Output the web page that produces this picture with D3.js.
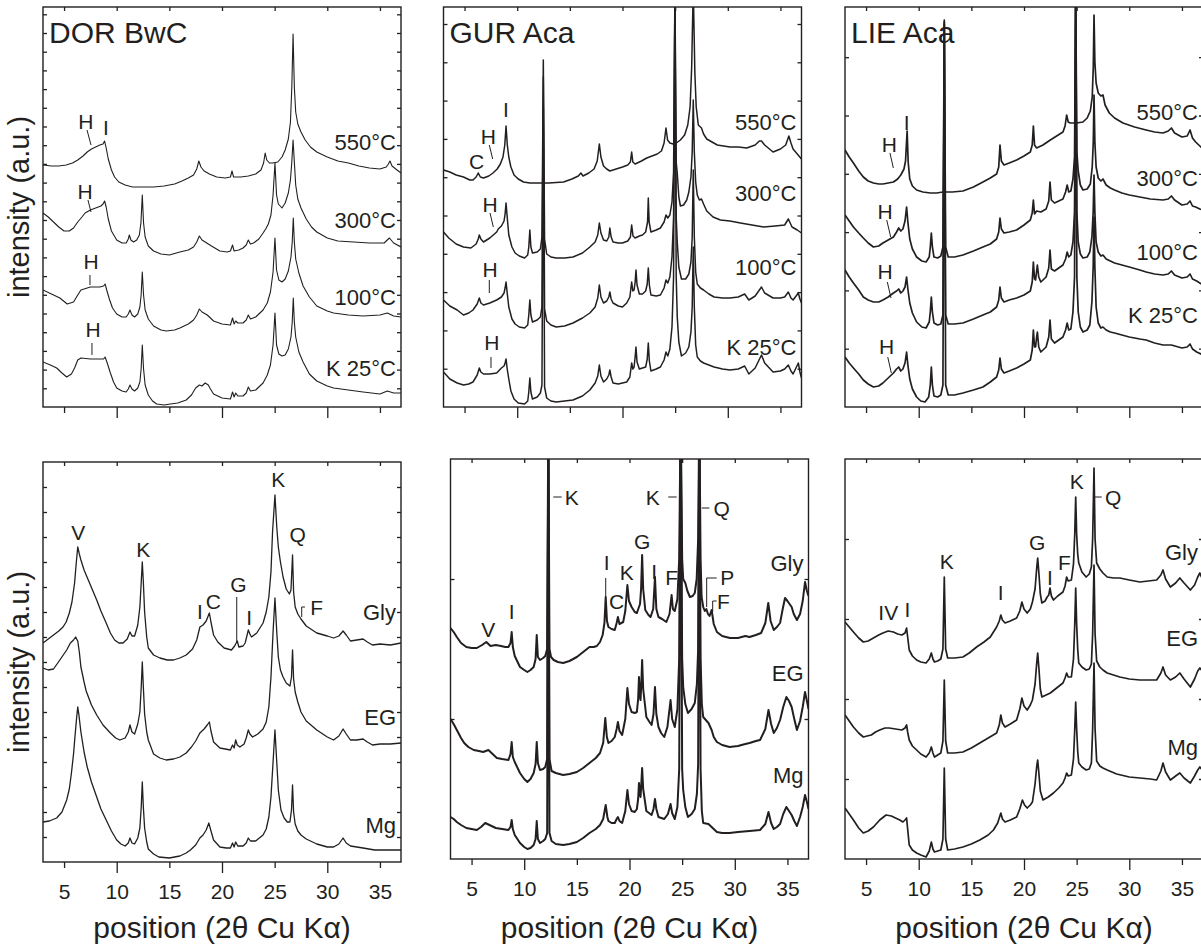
<!DOCTYPE html>
<html>
<head>
<meta charset="utf-8">
<script src="https://cdn.jsdelivr.net/npm/d3@7"></script>
<style>
  body { margin: 0; background: #fff; }
  text { font-family: "Liberation Sans", Arial, sans-serif; fill: #231f20; }
</style>
</head>
<body>
<script>
// x axis
const xDomain = [3, 37];
const yDomain = [0, 400];
const xTicks = [5, 10, 15, 20, 25, 30, 35];
const majorTicks = [10, 20, 30];
const minorTicks = [5, 15, 25, 35];

const tempNames = ['550°C', '300°C', '100°C', 'K 25°C'];
const solvNames = ['Gly', 'EG', 'Mg'];

// DOR BwC, heat series [2theta, intensity a.u.]
const dor550 = [[3,242],[3.8,241],[4.5,241],[5.2,242],[5.8,244],[6.3,247],[6.8,251],[7.2,255],[7.6,258],[8.0,260],[8.4,262],[8.7,263],[8.85,266],[9.0,259],[9.2,248],[9.5,237],[9.8,230],[10.2,225],[10.8,222],[11.5,220],[12.5,220],[13.5,220],[14.5,221],[15.5,223],[16.2,226],[16.8,229],[17.3,232],[17.6,238],[17.8,246],[18.0,240],[18.3,236],[18.8,233],[19.5,230],[20.3,229],[20.8,230],[20.95,236],[21.1,230],[21.8,230],[22.5,231],[23.2,233],[23.7,237],[23.95,244],[24.1,254],[24.25,247],[24.5,244],[24.8,244],[25.3,245],[25.7,250],[26.0,257],[26.3,268],[26.5,285],[26.63,320],[26.75,373],[26.87,320],[27.0,295],[27.2,283],[27.5,275],[27.9,267],[28.4,260],[29,255],[30,250],[31,246],[32,244],[33,241],[34,239],[35,238],[35.6,240],[35.8,243],[35.95,246],[36.15,241],[36.5,238],[37,234]];
const dor300 = [[3,194],[3.5,190],[4,185],[4.5,180],[5,176],[5.5,176],[5.9,179],[6.3,185],[6.7,190],[7,194],[7.5,197],[8.0,199],[8.5,201],[8.7,203],[8.85,206],[9.0,200],[9.2,188],[9.5,176],[10,167],[10.5,164],[10.9,164],[11.1,168],[11.2,172],[11.35,167],[11.6,165],[11.9,167],[12.15,172],[12.3,184],[12.43,212],[12.55,184],[12.7,170],[13,161],[13.5,156],[14.2,153],[15,152],[16,155],[16.8,157],[17.3,160],[17.6,165],[17.85,171],[18.1,167],[18.4,165],[19,161],[19.8,156],[20.5,155],[20.8,156],[21,162],[21.15,156],[21.6,157],[22,159],[22.3,162],[22.5,167],[22.7,163],[23,164],[23.5,168],[23.9,174],[24.15,178],[24.4,183],[24.65,192],[24.85,212],[25.03,244],[25.18,212],[25.35,203],[25.7,199],[26.0,204],[26.3,214],[26.5,227],[26.63,245],[26.75,267],[26.87,245],[27.0,222],[27.2,208],[27.5,199],[28,188],[28.5,180],[29,175],[30,169],[31,166],[32.5,165],[34,164],[35.4,164],[35.9,169],[36.3,164],[37,160]];
const dor100 = [[3,117],[3.8,113],[4.6,109],[5.3,103],[5.9,105],[6.3,112],[6.6,117],[7.5,120],[8.4,120],[8.75,121],[8.9,123],[9.05,117],[9.3,108],[9.6,99],[10,93],[10.5,90],[10.9,90],[11.1,93],[11.26,97],[11.45,92],[11.7,90],[12.0,93],[12.2,100],[12.32,112],[12.43,135],[12.55,112],[12.7,97],[13,88],[13.5,81],[14.2,77],[14.7,76],[15.5,77],[16,79],[16.8,83],[17.3,87],[17.6,92],[17.85,98],[18.1,95],[18.6,92],[19.2,86],[20,83],[20.8,82],[21,89],[21.15,83],[21.3,86],[21.5,84],[22,84],[22.3,87],[22.5,92],[22.7,88],[23.2,90],[23.9,97],[24.3,104],[24.6,115],[24.85,135],[25.03,169],[25.18,137],[25.4,127],[25.7,125],[26,128],[26.3,136],[26.55,150],[26.67,165],[26.77,189],[26.87,165],[27.0,148],[27.3,134],[27.7,121],[28.3,110],[29,101],[30,96],[30.6,94],[32,92],[33.4,91],[35,92],[35.7,94],[36.3,91],[37,90]];
const dorK25 = [[3,45],[3.7,42],[4.3,39],[4.8,34],[5.25,30],[5.7,33],[6,39],[6.3,47],[6.6,49],[7.5,48],[8.4,48],[8.75,48],[8.9,50],[9.1,44],[9.4,34],[9.7,25],[10,19],[10.5,16],[10.9,15],[11.1,18],[11.26,22],[11.45,18],[11.7,16],[12.0,19],[12.2,25],[12.32,38],[12.43,62],[12.55,38],[12.7,22],[13,12],[13.4,6],[13.8,3],[14.5,2],[15.1,3],[15.8,4],[16.6,7],[17.1,12],[17.5,19],[17.85,22],[18.1,21],[18.4,24],[18.7,22],[18.9,18],[19.2,13],[20,9],[20.8,8],[21,15],[21.15,10],[21.3,14],[21.5,11],[22,11],[22.3,14],[22.5,20],[22.7,16],[23.2,17],[23.9,24],[24.3,32],[24.6,42],[24.85,62],[25.03,94],[25.18,62],[25.4,53],[25.7,51],[26,52],[26.3,58],[26.55,70],[26.67,85],[26.77,109],[26.87,85],[27.0,70],[27.3,55],[27.7,45],[28.3,33],[29,26],[30,21],[30.6,19],[32,17],[33.4,15],[35,13],[35.7,16],[36.3,14],[37,14]];

// GUR Aca, heat series
const gur550 = [[3,237],[3.6,235],[4.2,232],[4.9,230],[5.5,227],[5.8,227],[6.1,230],[6.3,234],[6.5,230],[6.8,229],[7.3,231],[7.7,234],[8.1,238],[8.4,243],[8.65,250],[8.82,262],[8.94,281],[9.06,262],[9.2,250],[9.4,240],[9.7,232],[10.1,228],[10.6,225],[11.2,224],[12,224],[13,224],[14.4,225],[15.2,228],[15.8,231],[16.05,234],[16.25,231],[16.8,234],[17.3,238],[17.6,246],[17.8,263],[17.95,250],[18.2,241],[18.5,238],[18.8,236],[19.4,238],[20,240],[20.5,242],[20.75,245],[20.87,255],[20.98,245],[21.2,243],[21.8,246],[22.3,249],[22.8,251],[23.3,253],[23.7,256],[23.95,264],[24.13,279],[24.28,267],[24.5,264],[24.8,263],[25.1,264],[25.5,267],[25.9,272],[26.2,282],[26.42,300],[26.57,340],[26.72,420],[26.87,335],[27.0,300],[27.2,282],[27.5,279],[27.7,273],[28,268],[28.5,265],[29,262],[30.2,260],[31,260],[31.8,259],[32.6,262],[33.0,266],[33.2,266],[33.5,262],[34.3,255],[35,258],[35.5,262],[35.8,271],[36.0,264],[36.2,258],[36.6,253],[37,248]];
const gur300 = [[3,175],[3.5,169],[4.2,163],[4.9,160],[5.6,159],[6.1,163],[6.3,168],[6.4,172],[6.55,168],[6.8,165],[7.4,169],[8.05,175],[8.2,178],[8.5,181],[8.75,186],[8.85,193],[8.94,204],[9.05,190],[9.2,172],[9.5,160],[9.8,154],[10.2,151],[10.7,149],[11.0,152],[11.1,160],[11.2,177],[11.3,160],[11.45,154],[11.9,155],[12.2,158],[12.35,170],[12.48,347],[12.6,168],[12.8,153],[13.2,150],[13.7,149],[14.5,149],[15.3,150],[16.2,154],[16.9,160],[17.4,165],[17.65,172],[17.8,184],[17.95,174],[18.2,167],[18.5,166],[18.7,170],[18.8,179],[18.92,170],[19.1,165],[19.6,164],[20,164],[20.5,166],[20.75,170],[20.87,182],[21.0,171],[21.2,169],[21.6,171],[21.9,172],[22.2,175],[22.38,185],[22.45,209],[22.53,185],[22.7,175],[23.2,177],[23.6,179],[23.95,185],[24.13,192],[24.3,189],[24.5,192],[24.7,205],[24.85,235],[24.98,420],[25.1,245],[25.2,234],[25.35,210],[25.5,201],[25.8,202],[26.1,207],[26.3,215],[26.5,230],[26.62,255],[26.72,307],[26.82,255],[26.95,225],[27.1,212],[27.3,207],[27.5,208],[27.7,203],[28,196],[28.6,190],[29.3,187],[30.2,186],[31.2,184],[32.3,182],[33.4,180],[34.5,181],[35.4,182],[35.75,188],[36.1,180],[36.6,177],[37,174]];
const gur100 = [[3,107],[3.6,101],[4.3,97],[4.9,92],[5.4,94],[5.8,97],[6.2,103],[6.4,109],[6.55,104],[6.8,102],[7.4,104],[8.05,107],[8.5,110],[8.75,114],[8.85,119],[8.94,125],[9.05,114],[9.2,100],[9.5,88],[9.8,83],[10.2,80],[10.7,79],[11.0,82],[11.1,92],[11.2,107],[11.3,92],[11.45,85],[11.9,87],[12.2,90],[12.35,100],[12.48,330],[12.6,98],[12.8,86],[13.2,82],[13.7,80],[14.5,81],[15.3,84],[16.2,89],[16.9,94],[17.4,100],[17.65,109],[17.8,122],[17.95,110],[18.2,104],[18.5,106],[18.7,110],[18.8,115],[18.92,108],[19.1,104],[19.6,101],[20,100],[20.4,104],[20.7,110],[20.87,125],[20.98,116],[21.1,117],[21.2,125],[21.28,137],[21.38,122],[21.6,113],[21.9,113],[22.2,116],[22.35,123],[22.45,139],[22.55,122],[22.7,112],[23.2,111],[23.6,112],[23.95,119],[24.13,127],[24.3,124],[24.5,130],[24.7,150],[24.85,190],[24.98,420],[25.1,190],[25.2,165],[25.35,140],[25.6,128],[26,128],[26.3,133],[26.5,145],[26.62,170],[26.72,237],[26.82,170],[26.95,135],[27.1,123],[27.4,119],[27.7,117],[28.2,113],[28.7,110],[29.5,109],[30.2,109],[31,110],[31.6,113],[32,107],[32.6,111],[33.2,120],[33.5,114],[34.3,109],[35,109],[35.4,110],[35.75,115],[36.0,109],[36.2,107],[36.7,114],[36.85,108],[37,104]];
const gurK25 = [[3,35],[3.6,28],[4.3,24],[4.9,22],[5.4,23],[5.8,25],[6.2,32],[6.4,39],[6.55,35],[6.8,33],[7.4,33],[8.05,34],[8.5,39],[8.75,41],[8.85,44],[8.94,48],[9.05,38],[9.2,28],[9.4,16],[9.7,8],[10.1,4],[10.7,3],[11.0,6],[11.1,15],[11.2,29],[11.3,15],[11.45,8],[11.9,10],[12.2,14],[12.35,22],[12.48,300],[12.6,20],[12.8,9],[13.2,6],[13.7,5],[14.5,6],[15.3,7],[16.2,11],[16.9,17],[17.4,24],[17.65,31],[17.8,42],[17.95,31],[18.2,25],[18.5,28],[18.7,32],[18.8,37],[18.92,30],[19.1,24],[19.6,23],[20,24],[20.4,25],[20.7,30],[20.87,44],[20.98,38],[21.1,40],[21.2,50],[21.28,60],[21.38,45],[21.6,38],[21.9,39],[22.2,40],[22.35,48],[22.45,64],[22.55,46],[22.7,36],[23.2,38],[23.6,40],[23.95,47],[24.13,55],[24.3,51],[24.5,58],[24.7,80],[24.85,130],[24.98,420],[25.1,130],[25.2,90],[25.35,65],[25.6,51],[26,54],[26.3,60],[26.5,75],[26.62,100],[26.72,160],[26.82,100],[26.95,62],[27.1,50],[27.4,46],[27.7,44],[28.2,42],[28.7,40],[29.5,38],[30.2,37],[31,38],[31.6,41],[32,33],[32.6,39],[33.2,52],[33.5,44],[34.3,35],[35,36],[35.4,38],[35.75,42],[36.0,36],[36.2,33],[36.7,44],[36.85,35],[37,29]];

// LIE Aca, heat series
const lie550 = [[3,257],[3.4,250],[3.8,244],[4.3,236],[4.74,230],[5.2,226],[5.7,224],[6.2,223],[6.6,223],[7.1,224],[7.6,225],[8.0,228],[8.3,232],[8.6,238],[8.75,246],[8.9,276],[9.0,245],[9.15,228],[9.4,221],[9.8,217],[10.4,215],[11.1,214],[11.7,214],[12.3,215],[13.2,215],[14.2,216],[15.2,220],[16.1,225],[16.8,229],[17.4,233],[17.6,240],[17.72,262],[17.85,246],[18.1,242],[18.6,244],[19.3,247],[20,251],[20.6,255],[20.78,262],[20.89,281],[21.0,262],[21.2,259],[21.8,262],[22.5,267],[23.1,271],[23.7,275],[23.9,281],[24.05,292],[24.2,285],[24.4,284],[25,284],[25.6,285],[26,289],[26.3,296],[26.48,310],[26.58,340],[26.65,392],[26.73,345],[26.85,324],[27.05,314],[27.3,311],[27.5,312],[27.7,302],[28.1,294],[28.6,289],[29.4,284],[30.5,280],[31.6,277],[32.4,275],[33.2,274],[33.7,276],[34,279],[34.3,274],[35,270],[35.5,271],[35.77,277],[36.0,269],[36.3,265],[36.7,261],[37,258]];
const lie300 = [[3,192],[3.4,186],[3.8,180],[4.3,174],[4.74,169],[5.2,164],[5.7,160],[6.2,161],[6.6,164],[7.1,167],[7.6,170],[7.9,175],[8.1,179],[8.3,176],[8.5,178],[8.7,186],[8.85,200],[8.97,185],[9.15,168],[9.4,158],[9.8,150],[10.3,146],[10.7,145],[11.0,150],[11.1,160],[11.2,174],[11.3,160],[11.45,150],[11.8,149],[12.1,151],[12.3,160],[12.43,387],[12.56,160],[12.8,150],[13.4,150],[14.2,152],[15.2,156],[16.1,160],[16.8,163],[17.4,168],[17.6,175],[17.72,189],[17.85,178],[18.1,174],[18.6,175],[19.3,177],[20,182],[20.6,187],[20.78,194],[20.89,207],[21.0,193],[21.2,196],[21.6,195],[22.1,198],[22.35,206],[22.47,225],[22.6,207],[22.9,204],[23.3,206],[23.7,208],[23.95,215],[24.1,222],[24.25,215],[24.45,216],[24.65,228],[24.8,250],[24.91,420],[25.02,255],[25.15,236],[25.35,222],[25.6,217],[26,218],[26.3,223],[26.48,240],[26.58,265],[26.65,312],[26.73,265],[26.85,240],[27.05,229],[27.3,226],[27.5,228],[27.8,222],[28.2,219],[28.6,217],[29.3,214],[30,212],[31,210],[32,208],[33.2,207],[33.7,208],[34,211],[34.3,207],[35,202],[35.5,203],[35.77,206],[36.0,201],[36.3,200],[36.7,198],[37,197]];
const lie100 = [[3,137],[3.4,130],[3.8,124],[4.3,117],[4.74,110],[5.2,107],[5.7,105],[6.2,105],[6.6,107],[7.1,110],[7.6,114],[7.9,116],[8.1,118],[8.3,114],[8.5,116],[8.7,120],[8.85,130],[8.97,118],[9.15,104],[9.4,94],[9.8,85],[10.3,80],[10.7,79],[11.0,85],[11.1,95],[11.2,110],[11.3,95],[11.45,84],[11.8,82],[12.1,83],[12.3,92],[12.43,385],[12.56,92],[12.8,83],[13.4,83],[14.2,84],[15.2,88],[16.1,92],[16.8,95],[17.4,100],[17.6,107],[17.72,120],[17.85,109],[18.1,105],[18.6,107],[19.3,109],[20,112],[20.6,116],[20.78,125],[20.89,145],[21.0,128],[21.1,127],[21.2,136],[21.27,142],[21.4,130],[21.6,125],[22.1,130],[22.35,139],[22.47,157],[22.6,138],[22.9,136],[23.3,139],[23.7,142],[23.95,148],[24.1,155],[24.25,150],[24.45,152],[24.65,165],[24.8,195],[24.91,420],[25.02,195],[25.15,165],[25.35,153],[25.6,149],[26,150],[26.25,155],[26.45,170],[26.57,195],[26.65,232],[26.73,195],[26.85,165],[27.05,155],[27.3,151],[27.5,152],[27.8,148],[28.2,146],[28.6,144],[29.3,142],[30,140],[31,137],[31.6,135],[32.4,133],[33.2,132],[33.7,133],[34,136],[34.3,132],[35,129],[35.5,130],[35.77,133],[36.0,128],[36.4,126],[37,122]];
const lieK25 = [[3,50],[3.4,44],[3.8,39],[4.3,33],[4.74,27],[5.2,23],[5.7,20],[6.2,21],[6.6,24],[7.1,29],[7.6,34],[7.9,38],[8.1,40],[8.3,36],[8.5,38],[8.7,44],[8.85,55],[8.97,42],[9.15,28],[9.4,18],[9.8,10],[10.2,6],[10.6,5],[10.95,10],[11.1,22],[11.2,40],[11.3,22],[11.45,11],[11.8,10],[12.1,12],[12.3,22],[12.43,383],[12.56,22],[12.8,12],[13.4,12],[14.2,14],[15.2,17],[16.1,20],[16.8,25],[17.4,30],[17.6,37],[17.72,49],[17.85,38],[18.1,34],[18.6,36],[19.3,39],[20,43],[20.6,47],[20.78,57],[20.89,77],[21.0,60],[21.1,60],[21.2,70],[21.27,75],[21.4,60],[21.6,55],[22.1,60],[22.35,70],[22.47,87],[22.6,68],[22.9,64],[23.3,67],[23.7,70],[23.95,77],[24.1,84],[24.25,77],[24.45,78],[24.65,95],[24.8,130],[24.91,420],[25.02,130],[25.15,95],[25.35,80],[25.6,75],[26,77],[26.25,82],[26.45,105],[26.57,140],[26.65,190],[26.73,140],[26.85,100],[27.05,84],[27.3,79],[27.5,80],[27.8,77],[28.2,75],[28.6,74],[29.3,72],[30,70],[31,68],[31.6,67],[32.4,64],[33.2,62],[34,62],[35,59],[35.5,60],[35.77,63],[36.0,58],[36.4,55],[37,52]];

// DOR BwC, solvation series
const dorGly = [[3,219],[3.5,223],[4,227],[4.5,231],[4.9,235],[5.2,240],[5.5,249],[5.75,260],[6,279],[6.15,298],[6.3,315],[6.45,308],[6.6,302],[6.9,292],[7.3,282],[7.7,272],[8.1,262],[8.5,251],[9,239],[9.4,229],[9.8,222],[10.2,219],[10.6,219],[11.0,223],[11.26,230],[11.45,226],[11.7,226],[12.0,237],[12.2,255],[12.33,280],[12.43,300],[12.53,280],[12.65,250],[12.85,225],[13,214],[13.5,207],[14.1,204],[14.8,202],[15.4,202],[16,204],[16.6,207],[17.2,213],[17.6,222],[17.9,235],[18.2,237],[18.5,241],[18.8,249],[18.95,240],[19.2,227],[19.6,220],[20.2,214],[20.9,212],[21.2,216],[21.3,218],[21.45,221],[21.6,215],[22,216],[22.2,219],[22.5,232],[22.65,228],[22.8,225],[23.3,229],[23.9,239],[24.2,250],[24.45,265],[24.65,290],[24.8,330],[25.03,367],[25.2,335],[25.35,315],[25.55,300],[25.8,285],[26.1,273],[26.4,268],[26.55,272],[26.7,307],[26.8,270],[26.95,255],[27.2,248],[27.5,243],[28,236],[29,229],[30,226],[30.6,224],[31.1,226],[31.5,231],[31.8,227],[32.2,221],[32.8,222],[33.4,223],[33.8,220],[34.3,217],[35,218],[36,217],[37,219]];
const dorEG = [[3,194],[3.5,192],[4,193],[4.6,202],[5.25,212],[5.6,219],[5.9,222],[6.1,225],[6.3,221],[6.45,210],[6.6,195],[6.9,180],[7.1,171],[7.6,157],[8.1,147],[8.7,137],[9.4,129],[9.9,124],[10.3,122],[10.8,124],[11.1,130],[11.26,137],[11.45,130],[11.7,128],[12.0,138],[12.2,150],[12.33,175],[12.43,200],[12.53,175],[12.65,148],[12.85,130],[13,122],[13.5,108],[14.1,104],[14.7,102],[15.4,103],[16,105],[16.6,109],[17.1,115],[17.5,121],[17.9,129],[18.3,133],[18.6,137],[18.8,140],[18.95,131],[19.2,120],[19.8,114],[20.3,113],[20.8,112],[21,117],[21.15,114],[21.3,122],[21.45,117],[21.7,115],[22.1,118],[22.3,124],[22.5,132],[22.65,128],[22.9,125],[23.4,128],[23.9,133],[24.2,140],[24.45,155],[24.65,185],[24.85,230],[25.03,264],[25.2,230],[25.35,205],[25.55,192],[25.8,185],[26.1,179],[26.45,176],[26.6,185],[26.7,212],[26.8,183],[26.95,170],[27.2,160],[27.5,150],[28,141],[29,132],[30,125],[30.6,122],[31.1,126],[31.5,133],[31.8,128],[32.2,122],[32.8,122],[33.4,123],[33.8,120],[34.3,117],[35,118],[36,118],[37,119]];
const dorMg = [[3,40],[3.6,41],[4.3,44],[4.8,50],[5.25,62],[5.5,73],[5.7,89],[5.9,108],[6.05,127],[6.2,145],[6.3,155],[6.4,148],[6.6,130],[6.9,110],[7.2,95],[7.6,80],[8.1,65],[8.5,53],[9,42],[9.5,31],[10,22],[10.4,18],[10.8,16],[11.1,19],[11.26,24],[11.45,19],[11.7,18],[12.0,24],[12.2,34],[12.33,55],[12.43,80],[12.53,55],[12.65,34],[12.85,20],[13,13],[13.5,8],[14,5],[15,4],[16,6],[16.6,9],[17,12],[17.5,17],[17.9,24],[18.2,27],[18.5,32],[18.75,39],[18.9,33],[19.2,22],[19.8,15],[20.4,14],[20.8,14],[21,19],[21.15,15],[21.3,20],[21.5,16],[22,16],[22.3,19],[22.5,24],[22.7,21],[23.2,21],[23.9,27],[24.2,33],[24.45,45],[24.65,65],[24.85,100],[25.03,132],[25.2,100],[25.35,72],[25.6,52],[25.9,44],[26.2,40],[26.45,40],[26.6,52],[26.7,77],[26.8,50],[26.95,38],[27.2,31],[27.5,27],[28,23],[29,18],[30,15],[30.6,15],[31.1,18],[31.5,24],[31.8,19],[32.2,16],[33.4,14],[34.5,12],[35.5,12],[37,12]];

// GUR Aca, solvation series
const gurGly = [[3,231],[3.3,227],[3.6,222],[4.0,216],[4.5,212],[5.0,211],[5.5,211],[6.0,214],[6.4,217],[6.8,213],[7.3,214],[7.8,213],[8.2,212],[8.5,212],[8.7,216],[8.81,227],[8.92,212],[9.1,203],[9.6,192],[10.0,189],[10.3,187],[10.6,189],[10.9,192],[11.08,200],[11.19,224],[11.3,202],[11.5,199],[11.8,201],[12.0,203],[12.18,210],[12.29,450],[12.4,210],[12.55,202],[12.8,199],[13.2,197],[13.7,196],[14.3,198],[15,202],[15.6,207],[16.2,212],[16.6,212],[16.9,213],[17.2,217],[17.45,224],[17.62,236],[17.74,262],[17.86,238],[18.0,232],[18.3,230],[18.6,229],[18.78,236],[18.9,242],[19.05,235],[19.4,237],[19.6,248],[19.8,274],[19.95,258],[20.2,252],[20.5,247],[20.7,246],[20.9,252],[21.0,255],[21.1,270],[21.2,304],[21.3,270],[21.5,249],[21.8,244],[22.0,242],[22.25,250],[22.42,282],[22.55,250],[22.75,242],[23.1,240],[23.5,237],[23.8,245],[24,264],[24.12,250],[24.3,248],[24.55,260],[24.72,300],[24.86,450],[25.0,300],[25.1,280],[25.3,276],[25.5,268],[25.74,262],[26.0,263],[26.2,266],[26.38,280],[26.52,320],[26.63,450],[26.75,300],[26.85,262],[27,252],[27.15,248],[27.3,250],[27.45,245],[27.6,243],[27.8,249],[28.0,235],[28.3,227],[28.8,223],[29.54,221],[30.3,221],[31,223],[31.4,222],[32,224],[32.5,226],[32.9,236],[33.18,256],[33.4,238],[33.7,229],[34.0,232],[34.3,236],[34.55,250],[34.77,261],[35.0,258],[35.4,252],[35.6,245],[35.9,239],[36.2,245],[36.45,258],[36.67,277],[36.85,268],[37,263]];
const gurEG = [[3,140],[3.3,135],[3.6,129],[4.0,121],[4.3,116],[4.7,112],[5.2,109],[5.7,108],[6.1,107],[6.6,109],[7.0,105],[7.4,101],[7.9,100],[8.5,99],[8.7,105],[8.81,117],[8.92,102],[9.1,97],[9.6,86],[10.0,80],[10.3,77],[10.6,80],[10.9,86],[11.08,95],[11.19,117],[11.3,96],[11.5,89],[11.8,90],[12.0,92],[12.18,100],[12.29,450],[12.4,100],[12.6,88],[13.0,86],[13.7,84],[14.3,85],[15,87],[15.6,91],[16.2,96],[16.8,101],[17.2,106],[17.5,116],[17.7,141],[17.85,122],[18,116],[18.3,118],[18.6,122],[18.78,130],[18.9,137],[19.05,128],[19.3,124],[19.6,140],[19.8,171],[19.95,155],[20.2,147],[20.5,146],[20.7,147],[20.82,160],[20.9,182],[21.0,162],[21.05,159],[21.12,175],[21.2,199],[21.3,170],[21.6,142],[21.9,137],[22.1,134],[22.28,145],[22.42,172],[22.55,145],[22.75,132],[23.0,126],[23.3,122],[23.6,132],[23.9,159],[24.05,140],[24.3,132],[24.55,150],[24.72,200],[24.86,450],[25.0,200],[25.1,172],[25.3,155],[25.55,146],[25.9,150],[26.2,156],[26.4,175],[26.52,210],[26.63,450],[26.75,200],[26.87,155],[27,142],[27.25,139],[27.5,136],[27.8,129],[28.0,122],[28.3,117],[28.8,114],[29.5,112],[30.3,113],[31,115],[31.4,116],[32,118],[32.4,119],[32.9,130],[33.2,149],[33.45,135],[33.7,126],[34.0,131],[34.3,139],[34.6,152],[34.9,162],[35.15,158],[35.4,152],[35.65,140],[35.9,129],[36.2,138],[36.45,152],[36.67,167],[36.85,158],[37,150]];
const gurMg = [[3,42],[3.3,40],[3.6,37],[4.0,34],[4.5,31],[5.0,30],[5.5,29],[5.9,32],[6.3,36],[6.7,34],[7.3,31],[7.9,30],[8.5,29],[8.7,32],[8.81,39],[8.92,30],[9.1,24],[9.6,16],[10.0,12],[10.3,10],[10.6,11],[10.9,14],[11.08,20],[11.19,38],[11.3,20],[11.5,16],[11.8,18],[12.0,20],[12.18,26],[12.29,450],[12.4,26],[12.6,18],[13.0,15],[13.7,14],[14.3,15],[15,17],[15.6,21],[16.2,26],[16.8,30],[17.2,34],[17.5,40],[17.74,54],[17.9,42],[18,38],[18.3,36],[18.6,36],[18.78,40],[18.9,42],[19.05,38],[19.3,36],[19.6,48],[19.8,69],[19.95,55],[20.2,48],[20.5,47],[20.7,50],[20.82,60],[20.9,76],[21.0,64],[21.05,62],[21.12,75],[21.2,91],[21.3,70],[21.6,48],[22.1,44],[22.28,50],[22.42,60],[22.55,50],[22.75,42],[23.3,40],[23.65,45],[23.9,55],[24.05,46],[24.3,40],[24.55,52],[24.72,90],[24.86,450],[25.0,90],[25.1,69],[25.3,52],[25.55,42],[25.9,45],[26.2,50],[26.4,65],[26.52,95],[26.63,450],[26.75,90],[26.87,48],[27,36],[27.5,35],[27.8,32],[28.3,27],[28.8,26],[29.5,26],[30.3,27],[31.4,28],[32.4,29],[32.9,35],[33.2,47],[33.45,36],[33.7,30],[34.0,32],[34.3,35],[34.6,45],[34.9,52],[35.15,48],[35.4,44],[35.65,38],[35.9,33],[36.2,42],[36.45,52],[36.67,64],[36.85,57],[37,50]];

// LIE Aca, solvation series
const lieGly = [[3,237],[3.4,232],[3.8,227],[4.3,221],[4.74,217],[5.2,218],[5.7,221],[6.2,224],[6.6,226],[7.1,228],[7.6,227],[8.0,225],[8.4,224],[8.7,226],[8.85,231],[8.95,222],[9.1,209],[9.4,203],[9.8,199],[10.2,197],[10.7,196],[11.0,200],[11.2,206],[11.35,200],[11.5,197],[11.8,198],[12.1,200],[12.3,210],[12.43,282],[12.56,210],[12.75,201],[13.4,201],[14.2,202],[14.8,206],[15.5,212],[16.2,217],[16.8,222],[17.4,232],[17.65,238],[17.8,244],[17.95,239],[18.2,236],[18.7,238],[19.3,241],[19.6,248],[19.8,257],[20.0,250],[20.3,246],[20.6,250],[20.8,257],[21.05,270],[21.2,290],[21.3,301],[21.42,285],[21.55,265],[21.7,256],[22.0,258],[22.2,262],[22.35,264],[22.47,271],[22.6,263],[22.8,259],[23.2,263],[23.7,267],[23.9,273],[24.05,282],[24.2,278],[24.5,279],[24.7,295],[24.82,325],[24.91,362],[25.0,325],[25.1,305],[25.2,296],[25.5,287],[25.9,282],[26.2,285],[26.4,292],[26.52,320],[26.65,391],[26.75,320],[26.9,296],[27.2,290],[27.5,286],[27.9,282],[28.5,281],[29.1,281],[30,279],[31,277],[31.8,278],[32.6,279],[33.0,284],[33.2,289],[33.45,280],[33.9,272],[34.4,276],[34.8,281],[35.2,276],[35.8,269],[36.2,274],[36.5,282],[36.7,286],[36.85,282],[37,280]];
const lieEG = [[3,144],[3.4,138],[3.8,132],[4.3,126],[4.74,122],[5.1,123],[5.5,124],[5.9,127],[6.3,129],[6.8,131],[7.2,131],[7.8,130],[8.4,129],[8.7,131],[8.85,134],[8.95,127],[9.1,119],[9.4,113],[9.8,109],[10.2,105],[10.7,102],[11.0,106],[11.2,112],[11.35,106],[11.5,102],[11.8,104],[12.1,106],[12.3,118],[12.43,179],[12.56,118],[12.75,106],[13.4,106],[14.2,107],[15,111],[15.8,116],[16.6,121],[17.4,126],[17.65,134],[17.8,144],[17.95,136],[18.2,132],[18.7,135],[19.3,139],[19.6,150],[19.8,161],[20.0,153],[20.3,149],[20.6,154],[20.8,159],[21.05,175],[21.2,195],[21.3,206],[21.42,190],[21.55,170],[21.7,162],[22.1,164],[22.5,166],[23.1,171],[23.7,176],[23.9,181],[24.05,186],[24.2,182],[24.5,182],[24.7,200],[24.82,235],[24.91,271],[25.0,235],[25.1,210],[25.2,196],[25.5,192],[25.9,189],[26.2,190],[26.4,195],[26.52,225],[26.65,294],[26.75,225],[26.9,198],[27.2,192],[27.5,189],[27.9,186],[28.5,184],[29.1,182],[30,180],[31,179],[31.8,179],[32.6,179],[33.0,186],[33.2,192],[33.45,184],[33.9,179],[34.4,182],[34.8,186],[35.2,180],[35.8,172],[36.2,180],[36.5,188],[36.7,191],[36.85,189],[37,187]];
const lieMg = [[3,51],[3.4,45],[3.8,39],[4.3,31],[4.74,26],[5.2,28],[5.7,32],[6.3,39],[6.9,44],[7.4,43],[7.8,41],[8.2,39],[8.5,37],[8.7,39],[8.85,41],[8.95,30],[9.1,14],[9.4,9],[9.8,6],[10.2,4],[10.7,2],[11.0,8],[11.2,17],[11.35,10],[11.5,7],[11.8,8],[12.1,9],[12.3,20],[12.43,91],[12.56,20],[12.75,9],[13.4,10],[14.2,12],[15,15],[15.8,19],[16.6,24],[17.1,29],[17.5,36],[17.8,46],[17.95,40],[18.2,37],[18.7,39],[19.3,42],[19.6,50],[19.85,59],[20.05,54],[20.3,51],[20.6,54],[20.8,57],[21.05,75],[21.2,92],[21.3,99],[21.42,85],[21.55,68],[21.8,59],[22.3,62],[22.8,66],[23.3,71],[23.7,76],[23.9,81],[24.05,86],[24.2,83],[24.5,84],[24.7,100],[24.82,130],[24.91,157],[25.0,130],[25.1,108],[25.2,96],[25.5,92],[25.9,89],[26.2,90],[26.4,96],[26.52,130],[26.65,196],[26.75,130],[26.9,98],[27.2,93],[27.5,91],[27.9,89],[28.8,85],[30,82],[31,81],[32,80],[32.6,79],[33.0,88],[33.2,96],[33.45,87],[33.9,79],[34.4,83],[34.8,86],[35.2,81],[35.8,76],[36.2,83],[36.5,89],[36.7,92],[36.85,90],[37,89]];

// where the series names sit (intensity level)
const dorTopNameAt = [265, 187, 110, 39];
const gurTopNameAt = [285, 214, 140, 60];
const lieTopNameAt = [295, 229, 155, 92];
const dorBotNameAt = [250, 145, 37];
const gurBotNameAt = [296, 186, 84];
const lieBotNameAt = [307, 221, 112];

// mineral marks: [text, 2theta, intensity, optional leader]
const dorTopNotes = [
  ['H', 7.08, 285, [[7.18, 277], [7.56, 262]]],
  ['I', 8.98, 279],
  ['H', 6.99, 215, [[7.27, 207], [7.56, 195]]],
  ['H', 7.56, 145, [[7.46, 132], [7.46, 122]]],
  ['H', 7.75, 77, [[7.65, 64], [7.65, 52]]]
];
const gurTopNotes = [
  ['C', 6.15, 245],
  ['H', 7.25, 270, [[7.35, 262], [7.67, 248]]],
  ['I', 8.94, 297],
  ['H', 7.42, 202, [[7.42, 194], [7.73, 180]]],
  ['H', 7.42, 137, [[7.35, 127], [7.35, 114]]],
  ['H', 7.58, 64, [[7.51, 50], [7.51, 39]]]
];
const lieTopNotes = [
  ['H', 7.21, 262, [[7.27, 254], [7.59, 239]]],
  ['I', 8.86, 284],
  ['H', 6.8, 195, [[6.96, 187], [7.34, 170]]],
  ['H', 6.8, 135, [[7.02, 125], [7.37, 109]]],
  ['H', 6.96, 60, [[7.06, 50], [7.4, 34]]]
];
const dorBotNotes = [
  ['V', 6.35, 329], ['K', 12.53, 312], ['K', 25.35, 382], ['Q', 27.19, 327],
  ['G', 21.55, 277, [[21.4, 265], [21.4, 220]]],
  ['I', 17.91, 250], ['C', 19.17, 260], ['I', 22.59, 244],
  ['F', 29.0, 254, [[27.57, 245], [27.57, 255], [27.88, 255]]]
];
const gurBotNotes = [
  ['K', 14.51, 361, [[12.76, 362], [13.56, 362]]],
  ['K', 22.2, 361, [[23.68, 362], [24.48, 362]]],
  ['Q', 28.75, 350, [[26.86, 351], [27.58, 351]]],
  ['G', 21.21, 317],
  ['I', 17.83, 296, [[17.74, 281], [17.74, 262]]],
  ['C', 18.78, 257], ['K', 19.73, 286], ['I', 22.35, 287], ['F', 24.0, 281],
  ['P', 29.29, 281, [[27.33, 252], [27.33, 281], [28.28, 281]]],
  ['F', 28.91, 257, [[27.9, 247], [27.9, 258], [28.28, 258]]],
  ['V', 6.59, 229], ['I', 8.81, 247]
];
const lieBotNotes = [
  ['K', 25.0, 377], ['Q', 28.48, 361, [[26.74, 362], [27.38, 362]]],
  ['G', 21.26, 316], ['K', 12.66, 297], ['F', 23.83, 296], ['I', 22.47, 281], ['I', 17.79, 266],
  ['IV', 7.11, 246], ['I', 8.92, 249]
];

const ink = '#231f20';
const panelW = 358, panelH = 400;

const panels = [
  {left: 43, top: 7, title: 'DOR BwC', series: [dor550, dor300, dor100, dorK25], names: tempNames, nameAt: dorTopNameAt, notes: dorTopNotes, yStep: 18.7, lw: 1.1, labels: false},
  {left: 443.5, top: 7, title: 'GUR Aca', series: [gur550, gur300, gur100, gurK25], names: tempNames, nameAt: gurTopNameAt, notes: gurTopNotes, yStep: 38.3, lw: 1.5, labels: false},
  {left: 845, top: 7, title: 'LIE Aca', series: [lie550, lie300, lie100, lieK25], names: tempNames, nameAt: lieTopNameAt, notes: lieTopNotes, yStep: 58.3, lw: 1.7, labels: false},
  {left: 43, top: 462, title: null, series: [dorGly, dorEG, dorMg], names: solvNames, nameAt: dorBotNameAt, notes: dorBotNotes, yStep: 25, lw: 1.3, labels: true},
  {left: 450.5, top: 459, title: null, series: [gurGly, gurEG, gurMg], names: solvNames, nameAt: gurBotNameAt, notes: gurBotNotes, yStep: 140, lw: 2.0, labels: true},
  {left: 845, top: 459, title: null, series: [lieGly, lieEG, lieMg], names: solvNames, nameAt: lieBotNameAt, notes: lieBotNotes, yStep: 80, lw: 1.7, labels: true}
];

const svg = d3.select('body').append('svg')
  .attr('width', 1201)
  .attr('height', 951);

panels.forEach((p, i) => {
  const x = d3.scaleLinear().domain(xDomain).range([p.left, p.left + panelW]);
  const y = d3.scaleLinear().domain(yDomain).range([p.top + panelH, p.top]);
  const g = svg.append('g').attr('class', 'panel');

  g.append('clipPath').attr('id', 'clip' + i)
    .append('rect')
      .attr('x', p.left).attr('y', p.top)
      .attr('width', panelW).attr('height', panelH);

  const line = d3.line()
    .x(d => x(d[0]))
    .y(d => y(d[1]));

  g.append('g')
    .attr('clip-path', 'url(#clip' + i + ')')
    .selectAll('path')
    .data(p.series)
    .join('path')
      .attr('d', line)
      .attr('fill', 'none')
      .attr('stroke', ink)
      .attr('stroke-width', p.lw)
      .attr('stroke-linejoin', 'round');

  // frame
  g.append('rect')
    .attr('x', p.left).attr('y', p.top)
    .attr('width', panelW).attr('height', panelH)
    .attr('fill', 'none')
    .attr('stroke', ink)
    .attr('stroke-width', 1.4);

  // bottom ticks, long at 10/20/30
  const bottom = g.append('g').attr('transform', 'translate(0,' + (p.top + panelH) + ')');
  bottom.append('g').call(d3.axisBottom(x).tickValues(majorTicks).tickSize(11).tickFormat(''));
  bottom.append('g').call(d3.axisBottom(x).tickValues(minorTicks).tickSize(6).tickFormat(''));
  if (p.labels) {
    bottom.append('g')
      .call(d3.axisBottom(x).tickValues(xTicks).tickSize(0).tickPadding(22));
  }

  // inward ticks on top, left and right
  g.append('g').attr('transform', 'translate(0,' + p.top + ')')
    .call(d3.axisBottom(x).tickValues(xTicks).tickSize(4).tickFormat(''));
  const yt = d3.range(p.yStep, yDomain[1], p.yStep);
  g.append('g').attr('transform', 'translate(' + p.left + ',0)')
    .call(d3.axisRight(y).tickValues(yt).tickSize(4).tickFormat(''));
  g.append('g').attr('transform', 'translate(' + (p.left + panelW) + ',0)')
    .call(d3.axisLeft(y).tickValues(yt).tickSize(4).tickFormat(''));

  g.selectAll('.domain').remove();
  g.selectAll('.tick line').attr('stroke', ink).attr('stroke-width', 1.3);
  g.selectAll('.tick text')
    .attr('fill', ink)
    .style('font-size', '21px')
    .style('font-family', '"Liberation Sans", Arial, sans-serif');

  if (p.title) {
    g.append('text')
      .attr('x', p.left + 6)
      .attr('y', p.top + 36)
      .style('font-size', '30px')
      .text(p.title);
  }

  // series names at the right edge
  g.selectAll('.name')
    .data(p.names)
    .join('text')
      .attr('class', 'name')
      .attr('x', p.left + panelW - 5)
      .attr('y', (d, k) => y(p.nameAt[k]))
      .attr('dy', '0.35em')
      .attr('text-anchor', 'end')
      .style('font-size', '22px')
      .text(d => d);

  // mineral marks
  p.notes.forEach(n => {
    g.append('text')
      .attr('x', x(n[1]))
      .attr('y', y(n[2]))
      .attr('dy', '0.35em')
      .attr('text-anchor', 'middle')
      .style('font-size', '21px')
      .text(n[0]);
    if (n[3]) {
      g.append('path')
        .attr('d', d3.line()(n[3].map(q => [x(q[0]), y(q[1])])))
        .attr('fill', 'none')
        .attr('stroke', ink)
        .attr('stroke-width', 1);
    }
  });

  if (p.labels) {
    g.append('text')
      .attr('x', p.left + panelW / 2)
      .attr('y', 938)
      .attr('text-anchor', 'middle')
      .style('font-size', '30px')
      .text('position (2θ Cu Kα)');
  }
});

// y titles for both rows
[panels[0], panels[3]].forEach(p => {
  svg.append('text')
    .attr('transform', 'translate(29,' + (p.top + panelH / 2) + ') rotate(-90)')
    .attr('text-anchor', 'middle')
    .style('font-size', '29px')
    .text('intensity (a.u.)');
});
</script>
</body>
</html>
